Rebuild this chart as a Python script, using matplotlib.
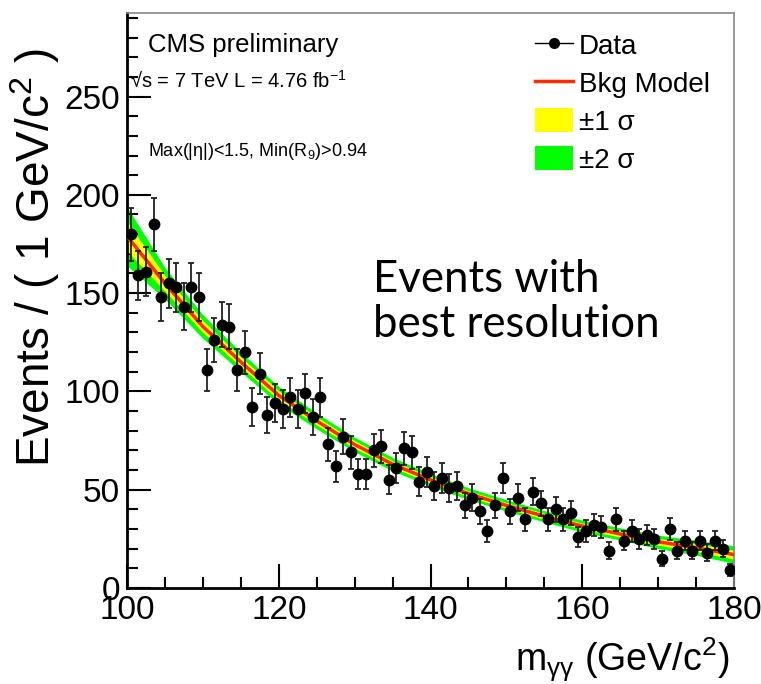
import numpy as np
import matplotlib
matplotlib.use("Agg")
import matplotlib.pyplot as plt
from matplotlib.ticker import MultipleLocator
from matplotlib.lines import Line2D
from matplotlib.patches import Patch

# -- Data --

# diphoton mass bins, 1 GeV wide, 100-180
mass_lo = 100
mass_hi = 180
counts = [180, 159, 161, 185, 148, 155, 153, 143, 153, 148,
          111, 126, 134, 133, 111, 120, 92, 109, 88, 94,
          91, 97, 91, 99, 87, 97, 73, 62, 77, 69,
          58, 58, 70, 72, 55, 61, 71, 69, 54, 59,
          52, 56, 51, 52, 42, 46, 39, 29, 42, 56,
          39, 46, 35, 49, 43, 35, 40, 35, 38, 26,
          29, 32, 31, 19, 35, 24, 29, 25, 27, 25,
          15, 30, 19, 24, 19, 24, 18, 24, 20, 9]

# background model and its 1/2 sigma half widths
model_x = [100, 105, 110, 115, 120, 125, 130, 135, 140,
           145, 150, 155, 160, 165, 170, 175, 180]
model_y = [179, 155, 133, 115, 98, 85, 73, 63, 55,
           48, 42, 36.5, 31.5, 27.5, 23.5, 20.5, 17]
band2 = [15, 8, 6, 5, 4.5, 4, 3.7, 3.4, 3.2,
         3.0, 2.9, 2.9, 3.0, 3.1, 3.4, 3.8, 4.5]
band1 = [7.5, 4, 3, 2.5, 2.3, 2, 1.9, 1.7, 1.6,
         1.5, 1.5, 1.5, 1.5, 1.6, 1.7, 1.9, 2.3]

counts = np.array(counts, dtype=float)
centers = np.arange(mass_lo, mass_hi) + 0.5
errors = np.sqrt(counts)
mx = np.array(model_x, dtype=float)
my = np.array(model_y)
b1 = np.array(band1)
b2 = np.array(band2)

# -- Style --

plt.rcParams["font.family"] = ["Liberation Sans", "DejaVu Sans"]
plt.rcParams["mathtext.fontset"] = "custom"
plt.rcParams["mathtext.rm"] = "Liberation Sans"
plt.rcParams["mathtext.it"] = "Liberation Sans:italic"

fig = plt.figure(figsize=(7.61, 6.84), dpi=100)
ax = fig.add_axes([127/761, 1 - 588/684, (734 - 127)/761, (588 - 13)/684])

# -- Plotting --

ax.fill_between(mx, my - b2, my + b2, color="#00ff00", lw=0, zorder=1)
ax.fill_between(mx, my - b1, my + b1, color="#ffff00", lw=0, zorder=2)
ax.plot(mx, my, color="#ff2a00", lw=2.5, zorder=3)
ax.errorbar(centers, counts, yerr=errors, fmt="o", color="black",
            ecolor="#222222", elinewidth=1.3, capsize=2.3, capthick=1.3,
            markersize=7.5, zorder=4)

ax.set_xlim(mass_lo, mass_hi)
ax.set_ylim(0, 292.5)

ax.xaxis.set_major_locator(MultipleLocator(20))
ax.xaxis.set_minor_locator(MultipleLocator(5))
ax.yaxis.set_major_locator(MultipleLocator(50))
ax.yaxis.set_minor_locator(MultipleLocator(10))
ax.tick_params(which="both", direction="in", top=False, right=False,
               width=1.5, color="black", labelsize=24)
ax.tick_params(which="major", length=17, pad=5)
ax.tick_params(which="minor", length=8)

for s in ["left", "bottom"]:
    ax.spines[s].set_linewidth(2)
    ax.spines[s].set_color("black")
for s in ["top", "right"]:
    ax.spines[s].set_linewidth(1.2)
    ax.spines[s].set_color("#888888")

fig.text(35/761, 1 - 258/684, r"Events / ( 1 GeV/c$^{2}$ )", rotation=90,
         ha="center", va="center", fontsize=33)
fig.text(729/761, 1 - 660/684, r"m$_{\mathrm{γγ}}$ (GeV/c$^{2}$)",
         ha="right", va="center", fontsize=27)

fig.text(148/761, 1 - 45/684, "CMS preliminary", ha="left", va="center",
         fontsize=18.5)
fig.text(130/761, 1 - 81/684, r"√s = 7 TeV L = 4.76 fb$^{-1}$", ha="left",
         va="center", fontsize=14.5)
fig.text(148/761, 1 - 152/684, r"Max(|η|)<1.5, Min(R$_{9}$)>0.94",
         ha="left", va="center", fontsize=13)

fig.text(373/761, 1 - 302/684, "Events with\nbest resolution", ha="left",
         va="center", fontsize=31.5, family=["Lato", "DejaVu Sans"],
         linespacing=1.15)

handles = [
    Line2D([], [], color="black", marker="o", markersize=7, lw=1),
    Line2D([], [], color="#ff2a00", lw=2.5),
    Patch(facecolor="#ffff00", edgecolor="none"),
    Patch(facecolor="#00ff00", edgecolor="none"),
]
labels = ["Data", "Bkg Model", "±1 σ", "±2 σ"]
fig.legend(handles, labels, loc="upper left",
           bbox_to_anchor=(535/761, 1 - 32/684), frameon=False,
           fontsize=20, handlelength=1.37, handleheight=0.95,
           handletextpad=0.2, labelspacing=0.38, borderpad=0,
           borderaxespad=0)

fig.savefig("out.png", dpi=100)
